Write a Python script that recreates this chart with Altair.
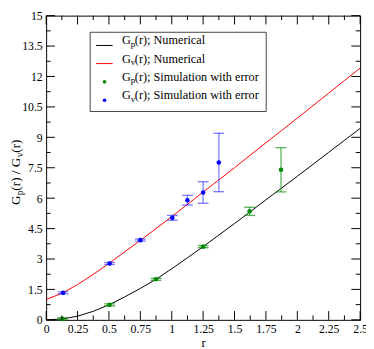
import altair as alt
import pandas as pd

# ---------------- data ----------------
r_curve = [0.0, 0.125, 0.25, 0.375, 0.5, 0.625, 0.75, 0.875, 1.0, 1.125, 1.25,
           1.375, 1.5, 1.625, 1.75, 1.875, 2.0, 2.125, 2.25, 2.375, 2.5]
gp_numerical = [0.0, 0.04, 0.18, 0.42, 0.74, 1.13, 1.55, 2.0, 2.52, 3.06, 3.61,
                4.18, 4.75, 5.33, 5.92, 6.5, 7.08, 7.67, 8.26, 8.85, 9.44]
gv_numerical = [1.0, 1.31, 1.74, 2.24, 2.78, 3.35, 3.92, 4.5, 5.09, 5.69, 6.3,
                6.9, 7.5, 8.12, 8.73, 9.34, 9.95, 10.56, 11.18, 11.8, 12.41]

r_gp_sim = [0.13, 0.505, 0.875, 1.25, 1.62, 1.87]
gp_sim = [0.05, 0.74, 2.0, 3.61, 5.35, 7.40]
gp_err = [0.05, 0.05, 0.05, 0.05, 0.2, 1.09]

r_gv_sim = [0.135, 0.505, 0.75, 1.005, 1.125, 1.25, 1.375]
gv_sim = [1.33, 2.78, 3.93, 5.03, 5.90, 6.28, 7.76]
gv_err = [0.05, 0.05, 0.05, 0.12, 0.24, 0.53, 1.44]

x_major = [0, 0.25, 0.5, 0.75, 1, 1.25, 1.5, 1.75, 2, 2.25, 2.5]
x_minor = [0.125, 0.375, 0.625, 0.875, 1.125, 1.375, 1.625, 1.875, 2.125, 2.375]
y_major = [0, 1.5, 3, 4.5, 6, 7.5, 9, 10.5, 12, 13.5, 15]
y_minor = [0.75, 2.25, 3.75, 5.25, 6.75, 8.25, 9.75, 11.25, 12.75, 14.25]

legend_rows = [
    ("p", "(r); Numerical"),
    ("v", "(r); Numerical"),
    ("p", "(r); Simulation with error"),
    ("v", "(r); Simulation with error"),
]

# ---------------- layout ----------------
W, H = 321, 311
FONT = "Liberation Serif"
GREEN = "#008c00"
BLUE = "#0000ff"

xs = alt.Scale(domain=[0, 2.5], nice=False, zero=False)
ys = alt.Scale(domain=[0, 15], nice=False, zero=False)
X_AX = alt.Axis(values=x_major, labelExpr="'' + datum.value", ticks=False, domain=False,
                grid=False, labelFont=FONT, labelFontSize=12, labelColor="black",
                labelPadding=4, labelFlush=False, labelOverlap=False, titleFont=FONT,
                titleFontSize=13, titleFontWeight="normal", titleColor="black",
                titlePadding=2)
Y_AX = alt.Axis(values=y_major, labelExpr="'' + datum.value", ticks=False, domain=False,
                grid=False, labelFont=FONT, labelFontSize=12, labelColor="black",
                labelPadding=4, labelFlush=False, labelOverlap=False)


def X(field):
    return alt.X(field, scale=xs, axis=X_AX, title="r")


def Y(field):
    return alt.Y(field, scale=ys, axis=Y_AX, title=None)


curves = pd.DataFrame({"r": r_curve, "gp": gp_numerical, "gv": gv_numerical})
gp_df = pd.DataFrame({"r": r_gp_sim, "g": gp_sim, "e": gp_err})
gp_df["lo"] = gp_df["g"] - gp_df["e"]
gp_df["hi"] = gp_df["g"] + gp_df["e"]
gv_df = pd.DataFrame({"r": r_gv_sim, "g": gv_sim, "e": gv_err})
gv_df["lo"] = gv_df["g"] - gv_df["e"]
gv_df["hi"] = gv_df["g"] + gv_df["e"]

base_curves = alt.Chart(curves)
gp_line = base_curves.mark_line(color="black", strokeWidth=1).encode(x=X("r:Q"), y=Y("gp:Q"))
gv_line = base_curves.mark_line(color="#ff0000", strokeWidth=1).encode(x=X("r:Q"), y=Y("gv:Q"))


def error_layers(df, color, opacity):
    b = alt.Chart(df)
    bar = b.mark_rule(color=color, opacity=opacity, strokeWidth=1.3).encode(
        x=X("r:Q"), y=Y("lo:Q"), y2="hi:Q")
    cap_lo = b.mark_tick(color=color, opacity=opacity, orient="horizontal",
                         size=11, thickness=1.4).encode(x=X("r:Q"), y=Y("lo:Q"))
    cap_hi = b.mark_tick(color=color, opacity=opacity, orient="horizontal",
                         size=11, thickness=1.4).encode(x=X("r:Q"), y=Y("hi:Q"))
    pts = b.mark_circle(color=color, opacity=1, size=22).encode(x=X("r:Q"), y=Y("g:Q"))
    return [bar, cap_lo, cap_hi, pts]


# ---------------- inward ticks on all four sides ----------------
def x_ticks(values, length):
    d = alt.Chart(pd.DataFrame({"v": values}))
    bottom = d.mark_rule(color="black", strokeWidth=1).encode(
        x=X("v:Q"), y=alt.value(H), y2=alt.value(H - length))
    top = d.mark_rule(color="black", strokeWidth=1).encode(
        x=X("v:Q"), y=alt.value(0), y2=alt.value(length))
    return [bottom, top]


def y_ticks(values, length):
    d = alt.Chart(pd.DataFrame({"v": values}))
    left = d.mark_rule(color="black", strokeWidth=1).encode(
        y=Y("v:Q"), x=alt.value(0), x2=alt.value(length))
    right = d.mark_rule(color="black", strokeWidth=1).encode(
        y=Y("v:Q"), x=alt.value(W), x2=alt.value(W - length))
    return [left, right]


ticks = x_ticks(x_major, 9) + x_ticks(x_minor, 4.5) + y_ticks(y_major, 9) + y_ticks(y_minor, 4.5)

# ---------------- legend (drawn by hand, offsets from plot top-left) ----------------
one = alt.Chart(pd.DataFrame({"k": [0]}))
LX0, LX1, LY0, LY1 = 45, 225, 17, 98
ROW_Y = [30.5, 49, 67.7, 86.5]
legend_layers = [
    one.mark_rect(fill="white", stroke="#444444", strokeWidth=1).encode(
        x=alt.value(LX0), x2=alt.value(LX1), y=alt.value(LY0), y2=alt.value(LY1))
]
sym_colors = ["black", "#ff0000", GREEN, BLUE]
LFS = 12.5
for i, (sub, rest) in enumerate(legend_rows):
    yy = ROW_Y[i]
    if i < 2:
        legend_layers.append(one.mark_rule(color=sym_colors[i], strokeWidth=1).encode(
            x=alt.value(51), x2=alt.value(68), y=alt.value(yy)))
    else:
        legend_layers.append(one.mark_circle(color=sym_colors[i], opacity=1, size=14).encode(
            x=alt.value(59.7), y=alt.value(yy)))
    legend_layers.append(one.mark_text(text="G", font=FONT, fontSize=LFS, color="black",
                                       align="left", baseline="alphabetic").encode(
        x=alt.value(77.5), y=alt.value(yy - 1)))
    legend_layers.append(one.mark_text(text=sub, font=FONT, fontSize=9, color="black",
                                       align="left", baseline="alphabetic", dx=9, dy=2.5).encode(
        x=alt.value(77.5), y=alt.value(yy - 1)))
    legend_layers.append(one.mark_text(text=rest, font=FONT, fontSize=LFS, color="black",
                                       align="left", baseline="alphabetic", dx=13.2).encode(
        x=alt.value(77.5), y=alt.value(yy - 1)))

# ---------------- y title with subscripts ----------------
TX, TY = -27, 193.5
TFS = 13.5
title_pieces = [("G", TFS, 0, 0), ("p", 9.5, 9.8, 3), ("(r) / G", TFS, 14.6, 0),
                ("v", 9.5, 48.6, 3), ("(r)", TFS, 53.4, 0)]
title_layers = []
for txt, fs, dx, dy in title_pieces:
    title_layers.append(one.mark_text(text=txt, font=FONT, fontSize=fs, color="black",
                                      align="left", baseline="alphabetic", angle=270,
                                      dx=dx, dy=dy).encode(
        x=alt.value(TX), y=alt.value(TY)))

layers = ([gp_line, gv_line] + error_layers(gp_df, GREEN, 0.65) + error_layers(gv_df, BLUE, 0.5)
          + ticks + legend_layers + title_layers)

chart = alt.layer(*layers).properties(
    width=W, height=H,
    autosize=alt.AutoSizeParams(type="none"),
    padding={"left": 39, "top": 4, "right": 6, "bottom": 26},
    background="white",
).configure_view(stroke="black", strokeWidth=1).configure_axis(
    labelFont=FONT, titleFont=FONT
)

chart.save("out.html", embed_options={"renderer": "svg", "actions": False})
